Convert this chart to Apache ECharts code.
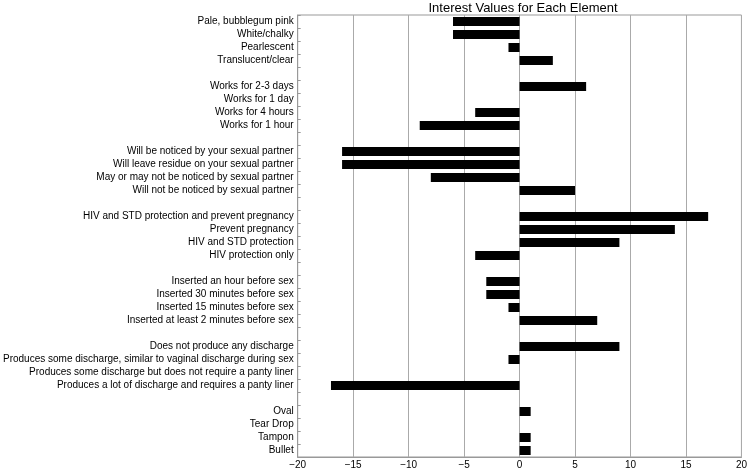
<!DOCTYPE html>
<html>
<head>
<meta charset="utf-8">
<script src="https://cdn.jsdelivr.net/npm/echarts@6/dist/echarts.min.js"></script>
<style>html,body{margin:0;padding:0;background:#fff}#c{width:750px;height:470px}</style>
</head>
<body>
<div id="c"></div>
<script>
var categories = [
  'Pale, bubblegum pink', 'White/chalky', 'Pearlescent', 'Translucent/clear', ' ',
  'Works for 2-3 days', 'Works for 1 day', 'Works for 4 hours', 'Works for 1 hour', '  ',
  'Will be noticed by your sexual partner', 'Will leave residue on your sexual partner', 'May or may not be noticed by sexual partner', 'Will not be noticed by sexual partner', '   ',
  'HIV and STD protection and prevent pregnancy', 'Prevent pregnancy', 'HIV and STD protection', 'HIV protection only', '    ',
  'Inserted an hour before sex', 'Inserted 30 minutes before sex', 'Inserted 15 minutes before sex', 'Inserted at least 2 minutes before sex', '     ',
  'Does not produce any discharge', 'Produces some discharge, similar to vaginal discharge during sex', 'Produces some discharge but does not require a panty liner', 'Produces a lot of discharge and requires a panty liner', '      ',
  'Oval', 'Tear Drop', 'Tampon', 'Bullet'
];
var values = [
  -6, -6, -1, 3, null,
  6, 0, -4, -9, null,
  -16, -16, -8, 5, null,
  17, 14, 9, -4, null,
  -3, -3, -1, 7, null,
  9, -1, 0, -17, null,
  1, 0, 1, 1
];
var xTicks = [-20, -15, -10, -5, 0, 5, 10, 15, 20];
var titleText = 'Interest Values for Each Element';

var chart = echarts.init(document.getElementById('c'), null, {renderer: 'canvas'});
chart.setOption({
  animation: false,
  backgroundColor: '#fff',
  title: {
    text: titleText, left: 518, textAlign: 'center', top: -3,
    textStyle: {fontFamily: 'Liberation Sans, Arial, sans-serif', fontWeight: 'normal', fontSize: 13, color: '#000'}
  },
  grid: {left: 293, right: 6, top: 15, bottom: 13, show: true, borderColor: '#999', borderWidth: 1, containLabel: false},
  xAxis: {
    type: 'value', min: xTicks[0], max: xTicks[xTicks.length - 1], interval: 5,
    axisLine: {show: true, onZero: false, lineStyle: {color: '#999'}},
    axisTick: {show: false},
    splitLine: {show: true, lineStyle: {color: '#aaa', width: 1}},
    axisLabel: {
      margin: 3, fontSize: 10, color: '#000', fontFamily: 'Liberation Sans, Arial, sans-serif',
      formatter: function (v) { return v < 0 ? '\u2212' + Math.abs(v) : String(v); }
    }
  },
  yAxis: {
    type: 'category', data: categories, inverse: true,
    axisLine: {show: true, onZero: false, lineStyle: {color: '#999'}},
    axisTick: {show: true, inside: true, length: 3, lineStyle: {color: '#999'}},
    splitLine: {show: false},
    axisLabel: {margin: 4, fontSize: 10, color: '#000', fontFamily: 'Liberation Sans, Arial, sans-serif', interval: 0}
  },
  series: [{
    type: 'bar', data: values, barWidth: 9,
    itemStyle: {color: '#000'}
  }]
});
</script>
</body>
</html>
